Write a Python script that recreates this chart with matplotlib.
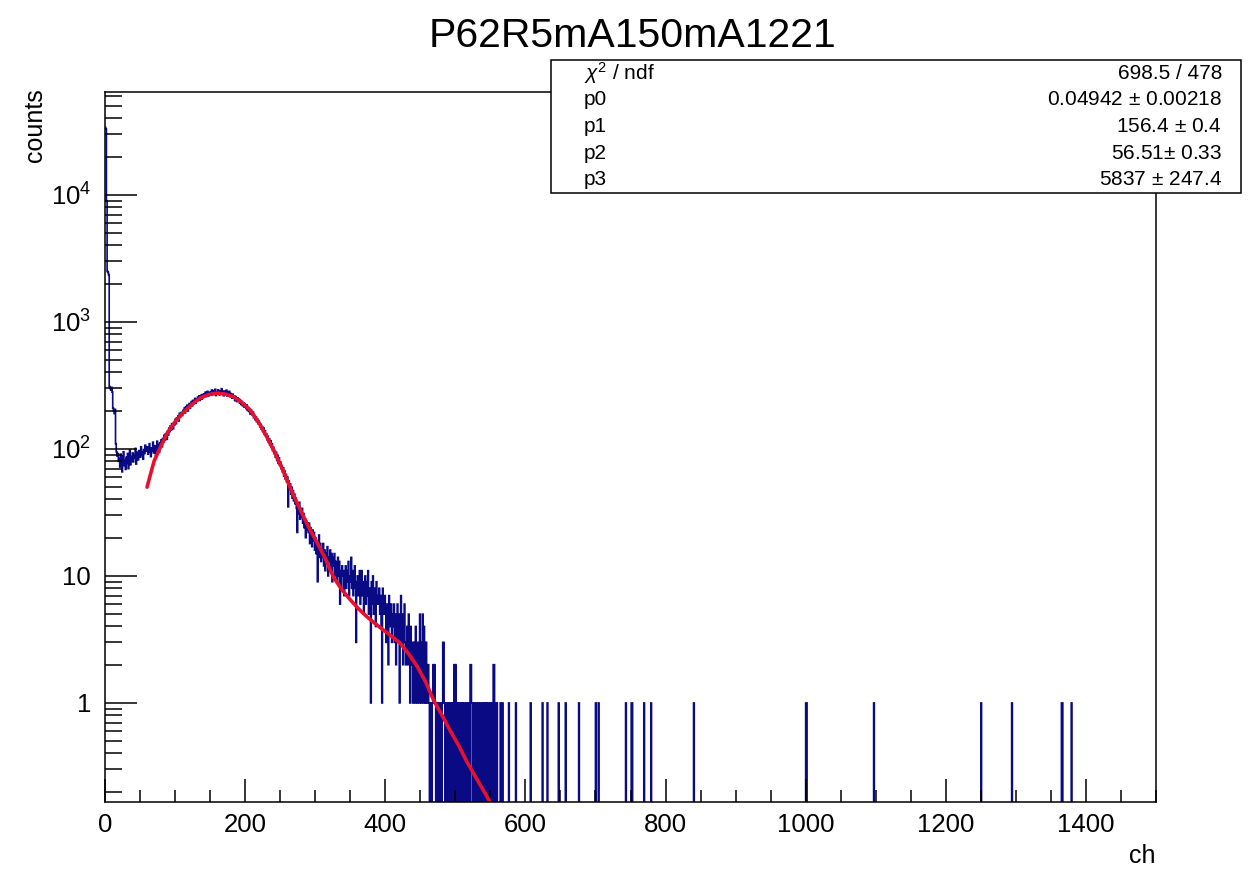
import numpy as np
import matplotlib
matplotlib.use("Agg")
import matplotlib.pyplot as plt
from matplotlib.patches import Rectangle
from matplotlib.ticker import FixedLocator, FixedFormatter, LogLocator, MultipleLocator, NullFormatter

plt.rcParams['font.family'] = ['Liberation Sans', 'DejaVu Sans']
plt.rcParams['mathtext.fontset'] = 'custom'
plt.rcParams['mathtext.rm'] = 'Liberation Sans'
plt.rcParams['mathtext.it'] = 'Liberation Sans:italic'

# histogram: one bin per channel, 0-1500
n_bins = 1500

# bin contents, channels 0..589 (10 per row)
counts_low = [
    34000, 33000, 9000, 2500, 2450, 2350, 310, 300, 290, 305,
    280, 210, 200, 190, 205, 110, 95, 88, 92, 80,
    84, 72, 91, 78, 66, 88, 95, 74, 81, 69,
    86, 77, 92, 70, 83, 98, 75, 87, 80, 93,
    79, 90, 85, 101, 76, 94, 88, 82, 97, 91,
    86, 104, 89, 95, 83, 99, 92, 107, 96, 101,
    104, 91, 99, 110, 95, 87, 102, 96, 113, 93,
    97, 106, 89, 101, 115, 98, 108, 94, 112, 105,
    118, 104, 121, 113, 128, 117, 131, 122, 119, 138,
    129, 146, 137, 152, 141, 158, 149, 144, 162, 155,
    171, 158, 176, 169, 182, 166, 191, 178, 185, 194,
    183, 201, 196, 210, 192, 215, 204, 221, 199, 217,
    228, 209, 224, 236, 218, 241, 227, 232, 250, 229,
    245, 238, 256, 249, 262, 241, 258, 265, 247, 268,
    255, 271, 262, 280, 259, 266, 284, 261, 275, 270,
    282, 265, 291, 272, 268, 288, 276, 295, 263, 281,
    270, 292, 279, 266, 286, 275, 298, 271, 283, 262,
    285, 268, 276, 290, 261, 279, 266, 284, 258, 273,
    266, 251, 270, 255, 262, 240, 258, 249, 236, 252,
    238, 247, 229, 241, 224, 236, 219, 230, 214, 227,
    216, 208, 222, 201, 212, 197, 206, 188, 203, 192,
    184, 195, 176, 183, 170, 179, 164, 172, 158, 166,
    161, 149, 156, 143, 150, 137, 146, 131, 139, 128,
    131, 118, 126, 113, 120, 108, 116, 104, 110, 97,
    103, 92, 97, 86, 94, 81, 89, 77, 85, 74,
    79, 70, 74, 66, 71, 61, 67, 58, 63, 55,
    60, 35, 56, 48, 53, 44, 50, 41, 47, 39,
    44, 37, 41, 34, 22, 36, 31, 38, 28, 33,
    29, 34, 26, 31, 24, 28, 20, 27, 23, 26,
    22, 26, 18, 24, 21, 17, 23, 19, 22, 16,
    20, 15, 18, 9, 17, 21, 14, 18, 13, 16,
    14, 18, 12, 16, 11, 15, 13, 17, 10, 14,
    13, 16, 11, 15, 9, 14, 12, 15, 10, 13,
    12, 9, 14, 10, 13, 6, 11, 8, 12, 10,
    11, 7, 10, 12, 8, 11, 9, 13, 7, 10,
    9, 14, 8, 11, 7, 10, 12, 8, 3, 9,
    10, 7, 9, 11, 6, 8, 11, 7, 9, 5,
    8, 10, 6, 9, 7, 11, 5, 8, 7, 1,
    9, 6, 10, 5, 7, 8, 4, 9, 6, 7,
    6, 8, 5, 7, 4, 1, 8, 6, 5, 7,
    5, 3, 6, 4, 2, 7, 5, 4, 6, 3,
    5, 4, 6, 3, 5, 2, 4, 6, 3, 5,
    1, 4, 7, 3, 5, 2, 4, 6, 3, 2,
    3, 4, 2, 5, 3, 1, 4, 2, 3, 1,
    2, 3, 1, 4, 2, 1, 3, 2, 1, 5,
    3, 1, 2, 5, 1, 4, 2, 1, 3, 1,
    1, 2, 1, 0, 1, 1, 0, 1, 2, 1,
    2, 1, 0, 1, 1, 0, 1, 0, 1, 1,
    0, 1, 3, 3, 1, 0, 1, 1, 0, 1,
    1, 0, 1, 0, 1, 1, 0, 1, 2, 0,
    2, 1, 0, 1, 0, 1, 1, 0, 1, 0,
    1, 0, 1, 1, 0, 0, 1, 0, 1, 1,
    0, 2, 2, 1, 0, 1, 0, 1, 0, 1,
    1, 0, 0, 1, 0, 1, 1, 0, 0, 1,
    0, 1, 0, 0, 1, 0, 1, 1, 0, 0,
    1, 0, 1, 0, 2, 2, 0, 1, 0, 1,
    0, 0, 0, 0, 1, 0, 0, 1, 0, 0,
    0, 0, 0, 0, 0, 0, 1, 0, 0, 0,
    0, 0, 0, 0, 0, 0, 1, 0, 0, 0,
]

# isolated single counts further out (channel numbers)
tail_channels = [607, 624, 631, 647, 657, 676, 700, 704, 743, 751, 752, 769, 779,
                 840, 1000, 1001, 1097, 1250, 1294, 1365, 1366, 1379]

# fit curve
fit_ch = [60, 70, 80, 89, 100, 111, 124, 136, 148, 160, 172, 183, 195, 207,
          219, 231, 243, 254, 266, 279, 291, 303, 315, 326, 338, 350, 362,
          374, 386, 397, 409, 421, 433, 446, 458, 469, 481, 493, 505, 517,
          531, 546, 560]
fit_val = [50, 80, 106, 134, 163, 192, 224, 252, 268, 275, 270, 258, 233, 203,
           163, 124, 92, 68, 47, 33, 24, 18.2, 13.5, 9.8, 7.8, 6.5, 5.5,
           4.76, 4.2, 3.76, 3.35, 2.97, 2.45, 1.92, 1.45, 1.05, 0.8, 0.6, 0.46,
           0.34, 0.25, 0.18, 0.13]

stat_names = [r"$\chi^{2}$ / ndf", "p0", "p1", "p2", "p3"]
stat_values = ["698.5 / 478", r"0.04942 $\pm$ 0.00218", r"156.4 $\pm$ 0.4",
               r"56.51$\pm$ 0.33", r"5837 $\pm$ 247.4"]

counts = np.zeros(n_bins)
counts[:len(counts_low)] = counts_low
for c in tail_channels:
    counts[c] += 1
edges = np.arange(0, n_bins + 1)
# empty bins drop below the frame on the log axis
shown = np.where(counts > 0, counts, 1e-3)

W, H = 1256, 869
fig = plt.figure(figsize=(W / 100, H / 100), dpi=100)
ax = fig.add_axes([105 / W, 67 / H, 1051 / W, 710 / H])

ax.stairs(shown, edges, baseline=None, color='#0a0a85', lw=1.2)
ax.plot(fit_ch, fit_val, color='#e8112d', lw=2.6, solid_capstyle='round')

ax.set_yscale('log')
ax.set_xlim(0, 1500)
ax.set_ylim(0.166, 64600)

ax.xaxis.set_major_locator(MultipleLocator(200))
ax.xaxis.set_minor_locator(MultipleLocator(50))
ax.yaxis.set_major_locator(FixedLocator([1, 10, 100, 1000, 10000]))
ax.yaxis.set_major_formatter(FixedFormatter(['1', '10', '$10^{2}$', '$10^{3}$', '$10^{4}$']))
ax.yaxis.set_minor_locator(LogLocator(base=10, subs=np.arange(2, 10), numticks=20))
ax.yaxis.set_minor_formatter(NullFormatter())

ax.tick_params(axis='both', which='both', direction='in', top=False, right=False,
               width=1.1, labelsize=18.5, colors='black')
ax.tick_params(axis='x', which='major', length=16.5, pad=8)
ax.tick_params(axis='x', which='minor', length=8.5)
ax.tick_params(axis='y', which='major', length=23, pad=10)
ax.tick_params(axis='y', which='minor', length=12.5)
for s in ax.spines.values():
    s.set_linewidth(1.1)

fig.text(633 / W, 1 - 36 / H, "P62R5mA150mA1221", ha='center', va='center', fontsize=29.5)
fig.text(35 / W, 1 - 88 / H, "counts", rotation=90, ha='center', va='top', fontsize=18)
fig.text(1155 / W, 1 - 856 / H, "ch", ha='right', va='center', fontsize=18)

# stats box
bx0, by0, bx1, by1 = 551, 60, 1241, 193
fig.patches.append(Rectangle((bx0 / W, 1 - by1 / H), (bx1 - bx0) / W, (by1 - by0) / H,
                             transform=fig.transFigure, facecolor='white',
                             edgecolor='black', lw=1.1, zorder=10))
row_h = (by1 - by0) / len(stat_names)
for i, (nm, val) in enumerate(zip(stat_names, stat_values)):
    yc = 1 - (by0 + row_h * (i + 0.5)) / H
    fig.text(584 / W, yc, nm, ha='left', va='center', fontsize=15, zorder=11)
    fig.text(1222 / W, yc, val, ha='right', va='center', fontsize=15, zorder=11)

fig.savefig("out.png", dpi=100)
